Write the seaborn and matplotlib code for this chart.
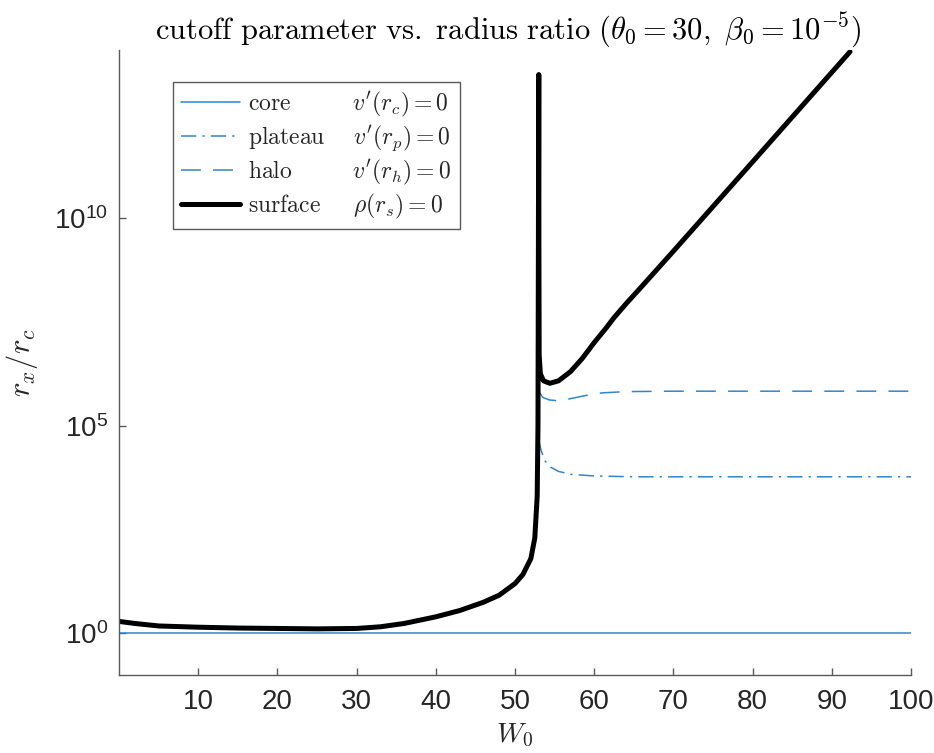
import matplotlib
matplotlib.use("Agg")
import matplotlib.pyplot as plt
from matplotlib.lines import Line2D
from matplotlib.font_manager import FontProperties
from matplotlib.mathtext import MathTextParser
from matplotlib.ticker import FixedLocator, LogFormatterSciNotation, NullLocator
import numpy as np
import pandas as pd
import seaborn as sns

# --- data (y given as log10 of r_x/r_c) ---
core_w = [0, 100]
core_log10 = [0.0, 0.0]

plateau_w = [53.0, 53.3, 53.8, 54.5, 55.5, 57.0, 60.0, 65.0, 100.0]
plateau_log10 = [4.65, 4.40, 4.15, 4.00, 3.90, 3.83, 3.79, 3.77, 3.77]

halo_w = [53.1, 53.5, 54.3, 55.4, 57.0, 59.0, 61.0, 64.0, 70.0, 100.0]
halo_log10 = [5.80, 5.68, 5.62, 5.60, 5.65, 5.73, 5.79, 5.82, 5.83, 5.83]

# surface curve turns back on itself near W0 ~ 53
surface_w = [0, 2, 5, 10, 15, 20, 25, 30, 33, 36, 40, 43, 46, 48, 50, 51, 52,
             52.5, 52.8, 52.9, 52.95, 53.0, 53.02, 53.05, 53.2, 53.6, 54.4,
             55.5, 57, 58.5, 60, 61.5, 62.5, 64, 66, 70, 80, 92.3]
surface_log10 = [0.29, 0.24, 0.18, 0.15, 0.13, 0.12, 0.11, 0.12, 0.16, 0.24,
                 0.40, 0.55, 0.75, 0.92, 1.20, 1.42, 1.80, 2.3, 3.3, 5.0, 9.0,
                 13.45, 9.0, 6.7, 6.25, 6.08, 6.02, 6.08, 6.30, 6.62, 7.0,
                 7.35, 7.6, 7.93, 8.35, 9.2, 11.35, 14.0]

names = ["core", "plateau", "halo", "surface"]
conditions = [r"v'(r_c) = 0", r"v'(r_p) = 0", r"v'(r_h) = 0",
              r"\rho(r_s) = 0"]

BLUE = "#2f86d0"
LEG_FS = 17

sns.set_theme(style="white")
plt.rcParams["font.family"] = ["Liberation Sans", "DejaVu Sans"]
plt.rcParams["mathtext.fontset"] = "cm"

# pad the names so the conditions line up in a second "column"
fp = FontProperties(size=LEG_FS, math_fontfamily="cm")
parser = MathTextParser("path")


def mwidth(s):
    return parser.parse(s, dpi=72, prop=fp)[0]


unit = mwidth(r"$\mathrm{a}\hspace{1}\mathrm{a}$") - mwidth(r"$\mathrm{aa}$")
target = 106 * 72 / 100
labels = []
for n, c in zip(names, conditions):
    gap = (target - mwidth(r"$\mathrm{%s}$" % n)) / unit
    labels.append(r"$\mathrm{%s}\hspace{%.3f}%s$" % (n, gap, c))

fig, ax = plt.subplots(figsize=(9.34, 7.53), dpi=100)
fig.subplots_adjust(left=0.1274, right=0.9754, bottom=0.1036, top=0.9336)
ax.set_yscale("log")

series = [
    (core_w, core_log10, BLUE, 1.1, None),
    (plateau_w, plateau_log10, BLUE, 1.1, (10, 4, 1.5, 4)),
    (halo_w, halo_log10, BLUE, 1.1, (13, 8)),
    (surface_w, surface_log10, "black", 3.6, None),
]
handles = []
for w, lg, color, lw, dash in series:
    df = pd.DataFrame({"W0": w, "r": 10 ** np.array(lg)})
    sns.lineplot(data=df, x="W0", y="r", sort=False, estimator=None,
                 color=color, linewidth=lw, ax=ax)
    if dash is not None:
        ax.lines[-1].set_dashes(dash)
    h = Line2D([], [], color=color, linewidth=lw)
    if dash is not None:
        h.set_dashes(dash)
    handles.append(h)

leg = ax.legend(handles, labels, loc="upper left",
                bbox_to_anchor=(0.068, 0.949), fontsize=LEG_FS, frameon=True,
                fancybox=False, framealpha=1, edgecolor="#5a5a5a",
                handlelength=2.5, handletextpad=0.35,
                borderpad=0.35, labelspacing=0.2, borderaxespad=0)
leg.get_frame().set_linewidth(1.0)

ax.set_xlim(0, 100)
ax.set_ylim(0.1, 1.1e14)
ax.xaxis.set_major_locator(FixedLocator(np.arange(10, 101, 10)))
ax.yaxis.set_major_locator(FixedLocator([1e0, 1e5, 1e10]))
ax.yaxis.set_major_formatter(LogFormatterSciNotation())
ax.yaxis.set_minor_locator(NullLocator())

for side in ["top", "right"]:
    ax.spines[side].set_visible(False)
for side in ["left", "bottom"]:
    ax.spines[side].set_color("#5a5a5a")
    ax.spines[side].set_linewidth(1.0)

ax.tick_params(axis="x", direction="in", length=5, width=1, color="#5a5a5a",
               labelsize=20, labelcolor="#262626", pad=10, bottom=True)
ax.tick_params(axis="y", direction="in", length=5, width=1, color="#5a5a5a",
               labelsize=20, labelcolor="#262626", pad=8, left=True)

ax.set_xlabel(r"$W_0$", fontsize=20, color="#262626")
ax.set_ylabel(r"$r_x/r_c$", fontsize=22, color="#262626")
ax.xaxis.set_label_coords(0.5, -0.075)
ax.yaxis.set_label_coords(-0.10, 0.5)

ax.set_title(r"$\mathrm{cutoff\ parameter\ vs.\ radius\ ratio}\ "
             r"(\theta_0 = 30,\ \beta_0 = 10^{-5})$",
             fontsize=22, color="black", pad=8, x=0.492)

fig.savefig("out.png", dpi=100)
